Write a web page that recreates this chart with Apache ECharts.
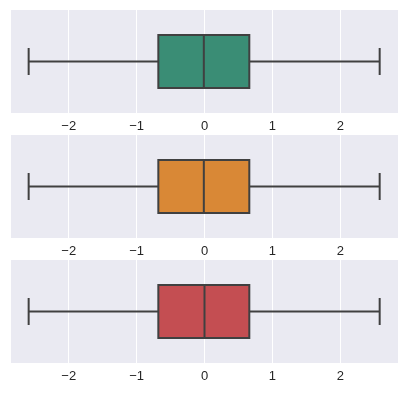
<!DOCTYPE html>
<html>
<head>
<meta charset="utf-8">
<script src="https://cdn.jsdelivr.net/npm/echarts@6/dist/echarts.min.js"></script>
<style>html,body{margin:0;padding:0;background:#fff}#c{width:407px;height:395px}</style>
</head>
<body>
<div id="c"></div>
<script>
const panels = ['A', 'B', 'C'];
const mins = [-2.59, -2.59, -2.59];
const q1s = [-0.68, -0.68, -0.68];
const medians = [-0.01, -0.01, 0.0];
const q3s = [0.66, 0.66, 0.66];
const maxs = [2.58, 2.58, 2.58];
const tickValues = [-2, -1, 0, 1, 2];
const colors = ['#3a8d75', '#d98836', '#c44e52'];

const chart = echarts.init(document.getElementById('c'), null, {renderer: 'canvas'});
const tops = [10, 135, 260];
const grids = [], xAxes = [], yAxes = [], series = [];
panels.forEach((p, i) => {
  grids.push({left: 11, right: 9, top: tops[i], height: 103, backgroundColor: '#eaeaf2', show: true, borderWidth: 0});
  xAxes.push({
    type: 'value', gridIndex: i, min: -2.85, max: 2.85,
    axisLine: {show: false},
    axisTick: {show: false, customValues: tickValues},
    axisLabel: {customValues: tickValues, color: '#262626', fontSize: 13, fontFamily: 'Liberation Sans', margin: 7,
      formatter: v => String(v).replace('-', '\u2212')},
    splitLine: {show: true, lineStyle: {color: '#ffffff', width: 1}}
  });
  yAxes.push({type: 'value', gridIndex: i, min: -0.5, max: 0.5, show: false, splitLine: {show: false}});
  series.push({
    type: 'custom', name: p, xAxisIndex: i, yAxisIndex: i,
    data: [[mins[i], q1s[i], medians[i], q3s[i], maxs[i], 0]],
    encode: {x: [0, 1, 2, 3, 4], y: 5},
    renderItem: (params, api) => {
      const mn = api.coord([api.value(0), 0]);
      const a = api.coord([api.value(1), 0]);
      const md = api.coord([api.value(2), 0]);
      const b = api.coord([api.value(3), 0]);
      const mx = api.coord([api.value(4), 0]);
      const y = mn[1];
      const band = api.size([0, 1])[1];
      const bh = band * 0.515, ch = band * 0.262;
      const st = {stroke: '#404040', lineWidth: 2, fill: null};
      return {type: 'group', children: [
        {type: 'line', shape: {x1: mn[0], y1: y, x2: a[0], y2: y}, style: st},
        {type: 'line', shape: {x1: b[0], y1: y, x2: mx[0], y2: y}, style: st},
        {type: 'line', shape: {x1: mn[0], y1: y - ch / 2, x2: mn[0], y2: y + ch / 2}, style: st},
        {type: 'line', shape: {x1: mx[0], y1: y - ch / 2, x2: mx[0], y2: y + ch / 2}, style: st},
        {type: 'rect', shape: {x: a[0], y: y - bh / 2, width: b[0] - a[0], height: bh},
          style: {fill: colors[i], stroke: '#404040', lineWidth: 2}},
        {type: 'line', shape: {x1: md[0], y1: y - bh / 2, x2: md[0], y2: y + bh / 2}, style: st}
      ]};
    }
  });
});
chart.setOption({animation: false, grid: grids, xAxis: xAxes, yAxis: yAxes, series: series});
</script>
</body>
</html>
